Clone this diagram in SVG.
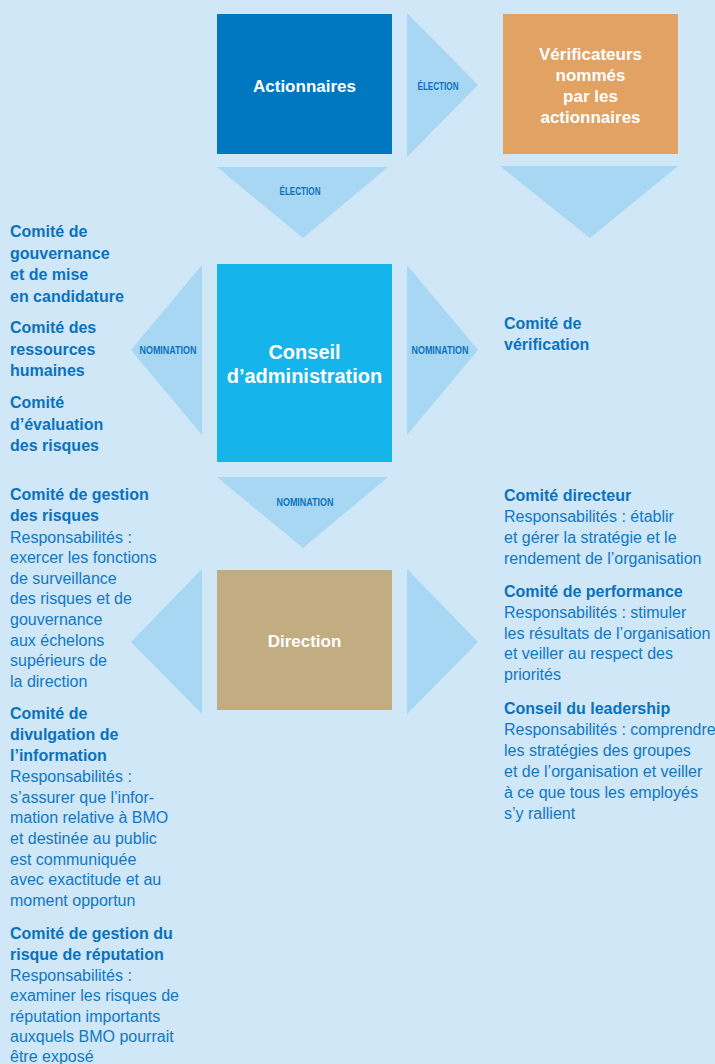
<svg xmlns="http://www.w3.org/2000/svg" width="715" height="1064" viewBox="0 0 715 1064">
  <style>
    .bg { fill: #d0e7f8; }
    .arrow { fill: #a8d7f3; }
    .tag { font-family: "Liberation Sans", Arial, sans-serif; font-weight: bold; font-size: 10.5px; fill: #0a72bd; text-anchor: middle; }
    .box-title { font-family: "Liberation Sans", Arial, sans-serif; font-weight: bold; font-size: 17px; fill: #ffffff; text-anchor: middle; }
    .box-big { font-family: "Liberation Sans", Arial, sans-serif; font-weight: bold; font-size: 20px; fill: #ffffff; text-anchor: middle; }
    .head { font-family: "Liberation Sans", Arial, sans-serif; font-weight: bold; font-size: 16px; fill: #0a72bd; }
    .body { font-family: "Liberation Sans", Arial, sans-serif; font-size: 16px; fill: #0f78c3; }
  </style>

  <rect class="bg" x="0" y="0" width="715" height="1064"/>

  <!-- arrows between the bodies -->
  <g id="connectors">
    <polygon class="arrow" points="407,13 478,85 407,157"/>
    <text class="tag" x="438" y="90" textLength="41" lengthAdjust="spacingAndGlyphs">ÉLECTION</text>

    <polygon class="arrow" points="217,167 388,167 303,238"/>
    <text class="tag" x="300" y="195" textLength="41" lengthAdjust="spacingAndGlyphs">ÉLECTION</text>

    <polygon class="arrow" points="500,166 678,166 590,238"/>

    <polygon class="arrow" points="202,265 131,350 202,435"/>
    <text class="tag" x="168" y="354" textLength="57" lengthAdjust="spacingAndGlyphs">NOMINATION</text>

    <polygon class="arrow" points="407,265 478,350 407,435"/>
    <text class="tag" x="440" y="354" textLength="57" lengthAdjust="spacingAndGlyphs">NOMINATION</text>

    <polygon class="arrow" points="217,477 388,477 303,548"/>
    <text class="tag" x="305" y="506" textLength="57" lengthAdjust="spacingAndGlyphs">NOMINATION</text>

    <polygon class="arrow" points="202,569 131,642 202,714"/>
    <polygon class="arrow" points="407,569 478,642 407,714"/>
  </g>

  <g id="actionnaires">
    <rect x="217" y="14" width="175" height="140" fill="#0077c1"/>
    <text class="box-title" x="304.5" y="92">Actionnaires</text>
  </g>

  <g id="verificateurs">
    <rect x="503" y="14" width="175" height="140" fill="#e2a263"/>
    <text class="box-title" x="590.5" y="60">Vérificateurs</text>
    <text class="box-title" x="590.5" y="81">nommés</text>
    <text class="box-title" x="590.5" y="102">par les</text>
    <text class="box-title" x="590.5" y="123">actionnaires</text>
  </g>

  <g id="conseil">
    <rect x="217" y="264" width="175" height="198" fill="#15b4ea"/>
    <text class="box-big" x="304.5" y="359">Conseil</text>
    <text class="box-big" x="304.5" y="383">d’administration</text>
  </g>

  <g id="direction">
    <rect x="217" y="570" width="175" height="140" fill="#c2ac82"/>
    <text class="box-title" x="304.5" y="647">Direction</text>
  </g>

  <!-- board committees, left -->
  <g id="comites-conseil-gauche">
    <text class="head" x="10" y="237">Comité de</text>
    <text class="head" x="10" y="258.5">gouvernance</text>
    <text class="head" x="10" y="280">et de mise</text>
    <text class="head" x="10" y="301.5">en candidature</text>
    <text class="head" x="10" y="333">Comité des</text>
    <text class="head" x="10" y="354.5">ressources</text>
    <text class="head" x="10" y="376">humaines</text>
    <text class="head" x="10" y="408">Comité</text>
    <text class="head" x="10" y="429.5">d’évaluation</text>
    <text class="head" x="10" y="451">des risques</text>
  </g>

  <!-- board committee, right -->
  <g id="comite-verification">
    <text class="head" x="504" y="329">Comité de</text>
    <text class="head" x="504" y="350">vérification</text>
  </g>

  <!-- management committees, left -->
  <g id="comite-gestion-risques">
    <text class="head" x="10" y="500">Comité de gestion</text>
    <text class="head" x="10" y="521">des risques</text>
    <text class="body" x="10" y="542.5">Responsabilités :</text>
    <text class="body" x="10" y="563">exercer les fonctions</text>
    <text class="body" x="10" y="583.5">de surveillance</text>
    <text class="body" x="10" y="604">des risques et de</text>
    <text class="body" x="10" y="625">gouvernance</text>
    <text class="body" x="10" y="645.5">aux échelons</text>
    <text class="body" x="10" y="666">supérieurs de</text>
    <text class="body" x="10" y="687">la direction</text>
  </g>

  <g id="comite-divulgation">
    <text class="head" x="10" y="718.5">Comité de</text>
    <text class="head" x="10" y="740">divulgation de</text>
    <text class="head" x="10" y="761">l’information</text>
    <text class="body" x="10" y="782">Responsabilités :</text>
    <text class="body" x="10" y="802.5">s’assurer que l’infor-</text>
    <text class="body" x="10" y="823">mation relative à BMO</text>
    <text class="body" x="10" y="843.5">et destinée au public</text>
    <text class="body" x="10" y="864.5">est communiquée</text>
    <text class="body" x="10" y="885">avec exactitude et au</text>
    <text class="body" x="10" y="905.5">moment opportun</text>
  </g>

  <g id="comite-reputation">
    <text class="head" x="10" y="938.5">Comité de gestion du</text>
    <text class="head" x="10" y="959.5">risque de réputation</text>
    <text class="body" x="10" y="980.5">Responsabilités :</text>
    <text class="body" x="10" y="1001">examiner les risques de</text>
    <text class="body" x="10" y="1021.5">réputation importants</text>
    <text class="body" x="10" y="1042">auxquels BMO pourrait</text>
    <text class="body" x="10" y="1062">être exposé</text>
  </g>

  <!-- management committees, right -->
  <g id="comite-directeur">
    <text class="head" x="504" y="501">Comité directeur</text>
    <text class="body" x="504" y="522">Responsabilités : établir</text>
    <text class="body" x="504" y="543">et gérer la stratégie et le</text>
    <text class="body" x="504" y="564">rendement de l’organisation</text>
  </g>

  <g id="comite-performance">
    <text class="head" x="504" y="597">Comité de performance</text>
    <text class="body" x="504" y="617.5">Responsabilités : stimuler</text>
    <text class="body" x="504" y="638.5">les résultats de l’organisation</text>
    <text class="body" x="504" y="659">et veiller au respect des</text>
    <text class="body" x="504" y="680">priorités</text>
  </g>

  <g id="conseil-leadership">
    <text class="head" x="504" y="713.5">Conseil du leadership</text>
    <text class="body" x="504" y="735">Responsabilités : comprendre</text>
    <text class="body" x="504" y="756">les stratégies des groupes</text>
    <text class="body" x="504" y="777">et de l’organisation et veiller</text>
    <text class="body" x="504" y="798">à ce que tous les employés</text>
    <text class="body" x="504" y="819">s’y rallient</text>
  </g>
</svg>
